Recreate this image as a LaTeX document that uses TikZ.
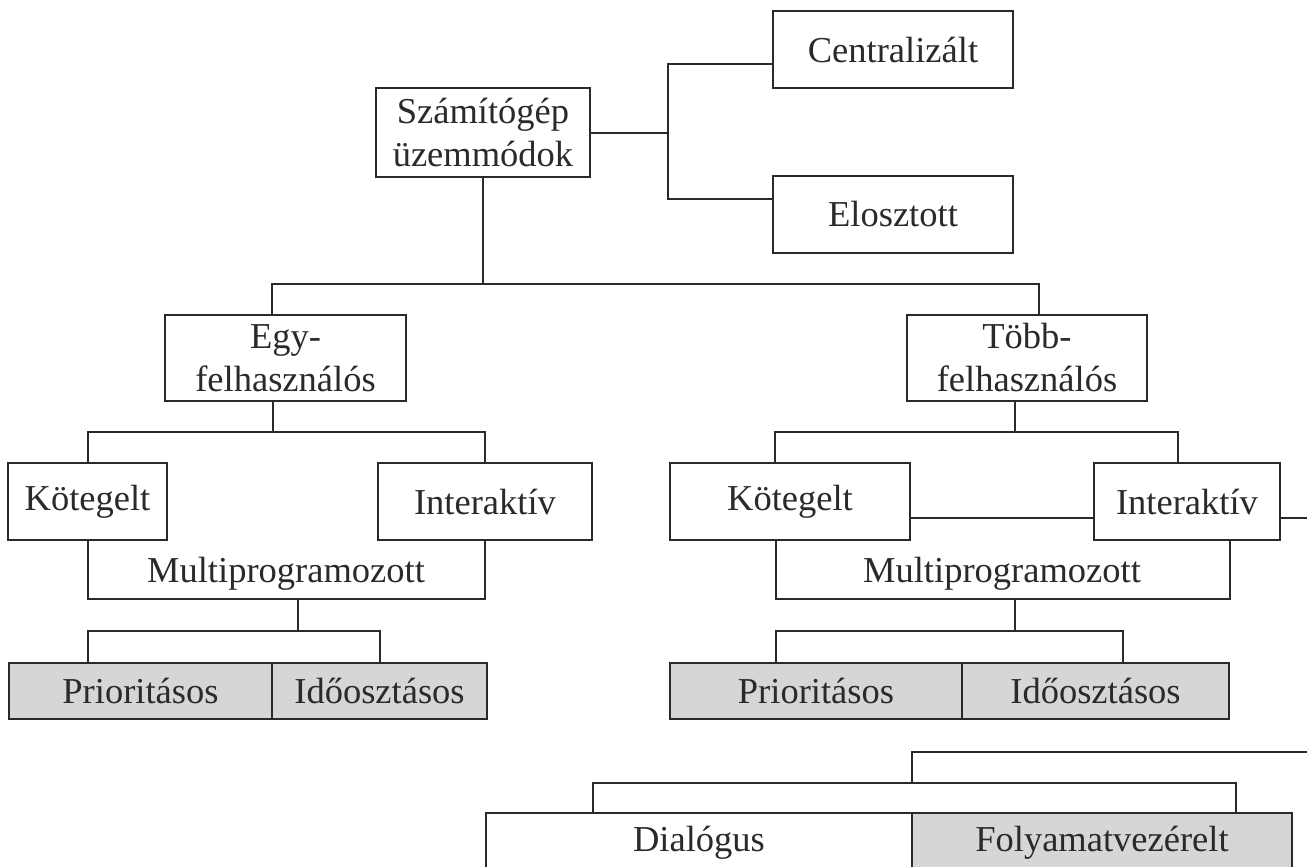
\documentclass[tikz,border=0pt]{standalone}
\usepackage{fontspec}
\setmainfont{Liberation Serif}
\definecolor{ink}{RGB}{42,42,42}
\definecolor{shade}{RGB}{214,214,214}
\begin{document}
\begin{tikzpicture}[x=1pt,y=-1pt,
  box/.style={draw=ink, line width=2pt, fill=white, text=ink, inner sep=0pt,
    align=center, font=\fontsize{36.5}{43}\selectfont},
  shaded/.style={box, fill=shade},
  label/.style={text=ink, inner sep=0pt, font=\fontsize{36.5}{43}\selectfont},
  link/.style={draw=ink, line width=2pt}]
\useasboundingbox (0,0) rectangle (1307,867);

% root and its two siblings
\node[box, minimum width=214pt, minimum height=89pt] (szam) at (483,132.5) {Számítógép\\üzemmódok};
\node[box, minimum width=240pt, minimum height=77pt] (cent) at (893,49.5) {Centralizált};
\node[box, minimum width=240pt, minimum height=77pt] (elo) at (893,214.5) {Elosztott};

% user count level
\node[box, minimum width=241pt, minimum height=86pt] (egy) at (285.5,358) {Egy-\\felhasználós};
\node[box, minimum width=240pt, minimum height=86pt] (tobb) at (1027,358) {Több-\\felhasználós};

% processing modes
\node[box, minimum width=159pt, minimum height=77pt] (kotL) at (87.5,501.5) {Kötegelt};
\node[box, minimum width=214pt, minimum height=77pt] (intL) at (485,501.5) {Interaktív};
\node[box, minimum width=240pt, minimum height=77pt] (kotR) at (790,501.5) {Kötegelt};
\node[box, minimum width=186pt, minimum height=77pt] (intR) at (1187,501.5) {Interaktív};

% scheduling leaves
\node[shaded, minimum width=263pt, minimum height=56pt] (priL) at (140.5,691) {Prioritásos};
\node[shaded, minimum width=215pt, minimum height=56pt] (idoL) at (379.5,691) {Időosztásos};
\node[shaded, minimum width=292pt, minimum height=56pt] (priR) at (816,691) {Prioritásos};
\node[shaded, minimum width=267pt, minimum height=56pt] (idoR) at (1095.5,691) {Időosztásos};

% bottom row
\node[box, minimum width=426pt, minimum height=60pt] (dia) at (699,843) {Dialógus};
\node[shaded, minimum width=380pt, minimum height=60pt] (folya) at (1102,843) {Folyamatvezérelt};

% junction points
\coordinate (jTop) at (483,284);
\coordinate (jSide) at (668,132.5);
\coordinate (jEgy) at (273,432);
\coordinate (jTobb) at (1015,432);
\coordinate (mL) at (298,599);
\coordinate (mR) at (1015,599);
\coordinate (jPL) at (298,631);
\coordinate (jPR) at (1015,631);
\coordinate (jB) at (912,783);
\coordinate (offA) at (1330,518);
\coordinate (offB) at (1330,752);

% multiprogrammed labels
\node[label, anchor=base] (multL) at (286,582) {Multiprogramozott};
\node[label, anchor=base] (multR) at (1002,582) {Multiprogramozott};

% root connectors
\draw[link] (szam.east) -- (jSide);
\draw[link] (cent.west |- 0,64) -| (jSide) |- (elo.west |- 0,199);
\draw[link] (szam.south) -- (jTop);
\draw[link] ([xshift=-13.5pt]egy.north) |- (jTop) -| ([xshift=12pt]tobb.north);

% single-user branch
\draw[link] ([xshift=-12.5pt]egy.south) -- (jEgy);
\draw[link] (kotL.north) |- (jEgy) -| (intL.north);
\draw[link] (kotL.south) |- (mL) -| (intL.south);
\draw[link] (mL) -- (jPL);
\draw[link] ([xshift=-52.5pt]priL.north) |- (jPL) -| (idoL.north);

% multi-user branch
\draw[link] ([xshift=-12pt]tobb.south) -- (jTobb);
\draw[link] ([xshift=-15pt]kotR.north) |- (jTobb) -| ([xshift=-9pt]intR.north);
\draw[link] ([xshift=-14pt]kotR.south) |- (mR) -| ([xshift=43pt]intR.south);
\draw[link] (mR) -- (jPR);
\draw[link] ([xshift=-40pt]priR.north) |- (jPR) -| ([xshift=27.5pt]idoR.north);
\draw[link] ([yshift=-16.5pt]kotR.east) -- ([yshift=-16.5pt]intR.west);
\draw[link] ([yshift=-16.5pt]intR.east) -- (offA);

% interactive subdivision
\draw[link] (jB) |- (offB);
\draw[link] ([xshift=-106pt]dia.north) |- (jB) -| ([xshift=134pt]folya.north);
\end{tikzpicture}
\end{document}
